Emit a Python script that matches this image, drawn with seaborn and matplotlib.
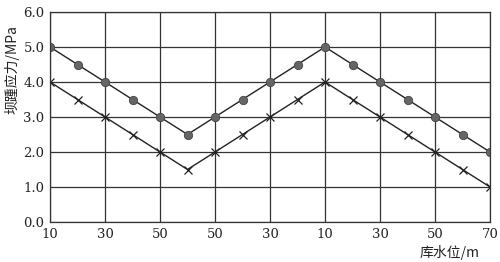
import matplotlib
matplotlib.use("Agg")
import matplotlib.pyplot as plt
import seaborn as sns
import pandas as pd
import numpy as np

tick_labels = ["10", "30", "50", "50", "30", "10", "30", "50", "70"]
series_circle = [5.0, 4.5, 4.0, 3.5, 3.0, 2.5, 3.0, 3.5, 4.0, 4.5, 5.0, 4.5, 4.0, 3.5, 3.0, 2.5, 2.0]
series_cross = [4.0, 3.5, 3.0, 2.5, 2.0, 1.5, 2.0, 2.5, 3.0, 3.5, 4.0, 3.5, 3.0, 2.5, 2.0, 1.5, 1.0]
y_ticks = [0.0, 1.0, 2.0, 3.0, 4.0, 5.0, 6.0]

sns.set_theme(style="white")
plt.rcParams['font.family'] = ['DejaVu Serif', 'Noto Sans CJK SC']

pos = np.arange(len(series_circle)) * 0.5
df = pd.DataFrame({"pos": np.concatenate([pos, pos]),
                   "stress": series_circle + series_cross,
                   "series": ["a"] * len(pos) + ["b"] * len(pos)})

fig = plt.figure(figsize=(5.0, 2.62), dpi=100)
ax = fig.add_axes([50/500, 1 - 222/262, 440/500, 210/262])

sns.lineplot(data=df[df.series == "a"], x="pos", y="stress", ax=ax, color="#222222",
             lw=1.0, marker="o", markersize=6, markerfacecolor="#666666",
             markeredgecolor="#444444", markeredgewidth=0.6, legend=False)
sns.lineplot(data=df[df.series == "b"], x="pos", y="stress", ax=ax, color="#222222",
             lw=1.0, marker="x", markersize=6, markeredgecolor="#222222",
             markeredgewidth=0.9, legend=False)

ax.set_xlim(0, 8)
ax.set_ylim(0, 6)
ax.set_xticks(range(len(tick_labels)))
ax.set_xticklabels(tick_labels)
ax.set_yticks(y_ticks)
ax.set_yticklabels([f"{v:.1f}" for v in y_ticks])
ax.grid(True, color="#333333", lw=0.9)
for s in ax.spines.values():
    s.set_color("#333333")
    s.set_linewidth(0.9)
ax.tick_params(axis="both", length=0, labelsize=9.5, colors="#222222", pad=4)
ax.set_xlabel("")
ax.set_ylabel("")

fig.text(450/500, 1 - 252/262, "库水位/m", ha="center", va="center", fontsize=10,
         family=["Noto Sans CJK SC", "DejaVu Sans"], color="#222222")
fig.text(12/500, 1 - 70/262, "坝踵应力/MPa", ha="center", va="center", rotation=90,
         fontsize=10, family=["Noto Sans CJK SC", "DejaVu Sans"], color="#222222")

fig.savefig("out.png", dpi=100, facecolor="white")
